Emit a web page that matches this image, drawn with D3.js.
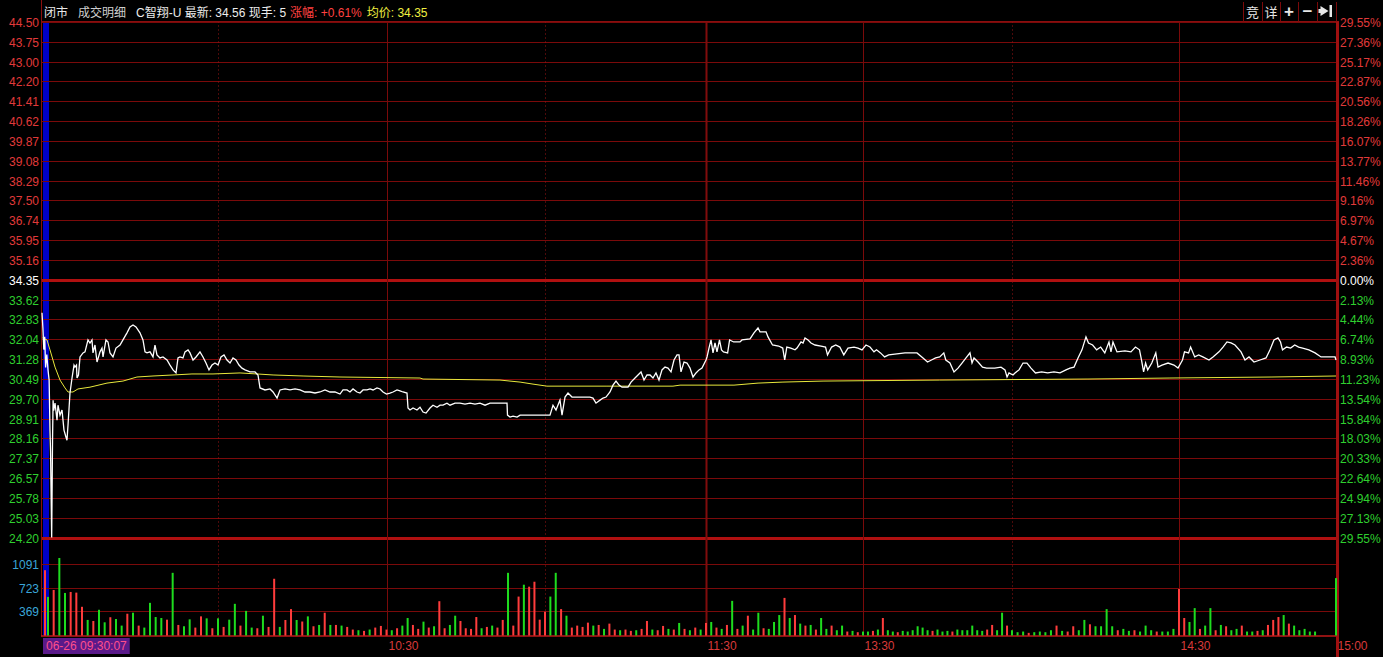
<!DOCTYPE html>
<html><head><meta charset="utf-8">
<script src="https://cdn.jsdelivr.net/npm/d3@7"></script>
<style>
body{margin:0;background:#000;overflow:hidden}
svg{display:block}
text{font-family:Arial,"Liberation Sans","Noto Sans CJK SC",sans-serif;font-size:12px}
</style>
</head><body>
<svg id="c" width="1383" height="657"></svg>
<script>
// ---------------- data ----------------
const prevClose = 34.35;
const priceTickLabels = ["44.50","43.75","43.00","42.20","41.41","40.62","39.87","39.08","38.29","37.50","36.74","35.95","35.16","34.35","33.62","32.83","32.04","31.28","30.49","29.70","28.91","28.16","27.37","26.57","25.78","25.03","24.20"];
const pctTickLabels = ["29.55%","27.36%","25.17%","22.87%","20.56%","18.26%","16.07%","13.77%","11.46%","9.16%","6.97%","4.67%","2.36%","0.00%","2.13%","4.44%","6.74%","8.93%","11.23%","13.54%","15.84%","18.03%","20.33%","22.64%","24.94%","27.13%","29.55%"];
const volTickValues = [369, 723, 1091];
const timeTickMinutes = [30, 60, 90, 120, 150, 180, 210, 240];
const timeTickLabels = ["", "10:30", "", "11:30", "13:30", "", "14:30", "15:00"];
const timeTickStyles = ["dot", "solid", "dot", "double", "solid", "dot", "solid", "none"];
const headerItems = [
  {t:"闭市", c:"#e8e8e8"}, {t:"成交明细", c:"#cfcfcf"},
  {t:"C智翔-U 最新: 34.56 现手: 5", c:"#ececec"},
  {t:"涨幅: +0.61%", c:"#ff4040"}, {t:"均价: 34.35", c:"#f0f040"}
];
const startStamp = "06-26 09:30:07";

// [minutes after 09:30, price]
const pricePoints = [
[-1.0,33.05],[-0.85,32.45],[-0.7,31.6],[-0.55,32.1],[-0.4,30.9],[-0.2,31.4],[0,30.8],[0.2,30.4],[0.35,28.4],[0.45,27.6],[0.65,24.2],[0.8,28.0],[0.9,29.6],[1.0,29.2],
[1.24,29.49],[1.59,28.82],[1.76,29.41],[2.12,29.02],[2.47,29.22],[2.82,28.43],[3.18,28.15],[3.35,28.03],[3.53,28.62],[3.88,29.89],[4.24,30.48],[4.59,30.99],[4.76,30.91],[5.03,30.99],[5.12,30.48],[5.38,30.6],
[5.65,31.31],[6.18,31.47],[6.53,31.51],[7.06,31.98],[7.41,31.86],[7.76,31.98],[7.94,31.47],[8.29,31.78],[8.65,31.11],[9.18,31.51],[9.53,31.66],[9.71,31.31],[10.23,31.98],[10.59,31.9],[10.94,31.47],[11.47,31.31],
[12.0,31.66],[12.71,31.78],[13.23,31.98],[13.94,32.26],[14.47,32.49],[15.0,32.57],[15.53,32.49],[16.23,32.26],[16.76,31.98],[17.12,31.51],[17.47,31.47],[18.0,31.51],[18.53,31.31],[18.88,31.78],[19.23,31.39],
[19.76,31.27],[20.29,31.31],[21.0,31.19],[21.53,30.99],[22.06,30.8],[22.59,30.68],[22.94,31.27],[23.29,31.31],[23.82,31.27],[24.18,31.51],[24.71,31.59],[25.06,31.47],[25.59,31.19],[26.12,31.31],[26.82,31.51],
[27.35,31.31],[27.88,31.07],[28.41,30.8],[28.94,30.99],[29.47,31.07],[30.0,30.99],[30.53,31.31],[31.07,31.39],[31.6,31.19],[32.14,31.07],[32.67,31.27],[33.2,31.19],[33.74,30.99],[34.27,30.87],[34.81,30.8],
[35.7,30.72],[36.59,30.72],[37.12,30.6],[37.48,30.09],[38.37,30.01],[39.26,30.05],[39.8,29.93],[40.51,29.69],[41.04,30.01],[41.93,30.05],[42.82,30.01],[43.71,30.05],[44.6,30.01],[45.49,29.93],[46.38,29.93],
[47.27,29.89],[48.16,29.93],[49.05,30.01],[49.94,29.93],[50.83,29.93],[51.72,29.85],[52.26,30.01],[52.97,30.01],[53.5,29.93],[54.04,30.05],[54.75,29.93],[55.28,29.89],[55.82,30.01],[56.53,30.01],[57.07,30.05],
[57.6,30.01],[58.31,30.09],[58.85,30.05],[59.38,29.93],[60.0,29.85],[60.66,29.89],[61.23,29.93],[61.99,30.01],[62.56,29.97],[63.12,29.93],[63.88,29.89],[64.07,29.3],[64.45,29.22],[65.02,29.3],[65.77,29.22],
[66.34,29.33],[66.91,29.14],[67.48,29.1],[68.23,29.3],[68.8,29.41],[69.56,29.33],[70.13,29.41],[70.69,29.41],[71.45,29.49],[72.02,29.41],[72.97,29.49],[73.91,29.49],[74.86,29.45],[75.81,29.49],[76.75,29.45],
[77.7,29.49],[78.65,29.41],[79.59,29.49],[80.54,29.49],[81.48,29.49],[82.81,29.49],[82.9,29.02],[83.38,28.94],[83.95,28.98],[84.71,28.94],[85.28,29.02],[87.17,29.02],[90.0,29.02],[90.93,29.02],[91.49,29.41],
[92.05,29.22],[92.79,29.61],[93.17,29.02],[93.73,29.73],[94.29,29.89],[95.03,29.73],[96.52,29.73],[98.38,29.73],[98.94,29.69],[99.5,29.49],[100.25,29.61],[100.81,29.69],[101.37,29.73],[102.11,29.93],
[102.67,30.2],[103.23,30.36],[103.79,30.2],[104.35,30.12],[105.47,30.12],[106.03,30.32],[106.77,30.48],[107.33,30.6],[107.89,30.72],[108.45,30.4],[109.01,30.6],[109.57,30.6],[110.12,30.48],[110.68,30.68],
[111.24,30.4],[111.8,30.8],[112.36,30.91],[112.92,30.87],[113.48,30.72],[114.04,31.19],[114.6,31.39],[114.97,31.39],[115.34,30.72],[115.9,31.11],[116.46,31.07],[117.02,30.87],[117.58,30.52],[118.14,30.68],
[118.7,30.8],[119.25,30.87],[120.0,31.19],[120.2,31.31],[120.57,31.66],[120.96,31.98],[121.34,31.47],[121.72,31.86],[122.1,31.51],[122.58,31.98],[122.96,31.59],[123.34,31.51],[124.13,31.47],[124.51,31.98],
[125.29,31.9],[126.5,31.9],[126.88,31.98],[128.41,32.02],[129.17,32.26],[129.94,32.45],[130.32,32.3],[131.47,32.3],[131.85,32.1],[132.71,31.78],[133.87,31.74],[134.66,31.66],[135.04,31.19],[135.44,31.7],
[136.2,31.66],[137.01,31.59],[137.39,31.66],[138.16,31.9],[138.54,31.86],[138.92,32.06],[139.5,31.98],[140.06,31.86],[140.83,31.78],[141.98,31.74],[142.84,31.7],[143.22,31.39],[144.0,31.7],[144.79,31.78],
[145.57,31.7],[146.33,31.39],[147.13,31.66],[148.28,31.7],[149.04,31.66],[149.81,31.59],[150.6,31.78],[151.41,31.7],[152.21,31.51],[152.72,31.59],[153.52,31.47],[154.35,31.31],[155.17,31.39],[156.83,31.43],
[158.46,31.47],[160.07,31.47],[160.87,31.47],[162.08,31.27],[162.99,31.11],[163.79,31.19],[164.62,31.27],[165.44,31.31],[166.27,31.47],[166.67,31.19],[167.5,31.07],[168.32,30.72],[169.13,30.87],[169.93,31.07],
[170.74,31.27],[171.54,31.47],[171.95,31.07],[172.35,31.27],[173.16,31.11],[174.06,30.91],[174.89,30.87],[176.52,30.87],[177.79,30.91],[178.59,30.8],[179.0,30.52],[179.4,30.68],[180.18,30.6],[180.54,30.68],
[181.26,30.8],[181.98,31.07],[182.69,31.07],[183.41,30.87],[184.22,30.68],[185.32,30.72],[186.41,30.68],[187.54,30.72],[188.62,30.68],[189.7,30.8],[190.42,30.87],[191.14,30.91],[191.86,31.27],[192.57,31.59],
[193.29,32.1],[193.74,31.86],[194.48,31.78],[195.21,31.59],[195.93,31.7],[196.67,31.47],[197.42,31.9],[197.78,31.51],[198.14,31.9],[198.86,31.51],[200.29,31.55],[201.37,31.51],[202.18,31.7],[202.9,31.59],
[203.26,31.19],[203.64,30.72],[204.0,31.07],[204.38,30.8],[205.11,31.07],[205.83,31.47],[206.23,30.91],[206.95,30.99],[208.03,31.07],[209.1,30.99],[209.82,30.87],[210.67,31.19],[211.05,31.51],[211.83,31.47],
[212.22,31.7],[213.0,31.31],[213.76,31.39],[214.55,31.31],[215.73,31.19],[216.5,31.31],[217.64,31.51],[218.41,31.7],[219.17,31.9],[219.94,31.86],[220.7,31.78],[221.85,31.51],[222.61,31.19],[223.38,31.31],
[224.33,31.11],[225.48,31.19],[226.63,31.27],[227.39,31.59],[228.15,31.98],[228.92,32.06],[229.4,31.9],[229.78,31.59],[230.56,31.7],[231.33,31.66],[232.11,31.78],[232.86,31.7],[233.62,31.66],[234.81,31.59],
[236.0,31.47],[237.14,31.31],[239.82,31.31],[240.0,31.19]
];

const avgPoints = [
[-0.9,32.06],[-0.17,31.98],[0.35,31.59],[1.24,30.91],[2.12,30.4],[3.0,30.09],[3.53,29.93],[4.41,29.93],[5.29,30.05],[7.41,30.12],[10.41,30.28],[13.23,30.36],[15.7,30.52],[18.53,30.56],[22.06,30.6],
[25.41,30.64],[29.12,30.64],[33.92,30.68],[36.94,30.64],[39.8,30.6],[45.14,30.56],[51.72,30.52],[66.34,30.48],[66.91,30.44],[81.48,30.4],[85.28,30.32],[87.73,30.24],[90.37,30.16],[101.55,30.16],
[113.85,30.16],[115.16,30.2],[125.35,30.2],[129.94,30.28],[134.71,30.32],[142.36,30.36],[165.46,30.4],[193.65,30.44],[208.38,30.48],[227.77,30.52],[240.0,30.56]
];

const auctionVolume = 990;
const volumes = [
585,690,1175,645,660,650,435,236,220,390,
200,277,250,150,330,345,150,120,495,280,
265,240,950,160,140,245,120,290,260,110,
260,130,240,480,150,373,120,110,300,130,
860,130,235,400,235,212,290,140,160,345,
160,160,150,130,90,80,70,90,120,145,
90,80,110,150,265,160,100,210,120,140,
520,110,160,300,220,110,100,280,110,130,
150,120,236,950,150,590,770,740,815,240,
360,590,950,400,300,120,150,130,195,150,
160,100,180,90,80,90,70,80,100,220,
90,80,145,100,90,190,100,80,120,90,
190,205,120,100,160,525,100,150,300,90,
345,110,100,205,310,570,265,310,180,150,
160,90,265,100,150,80,150,60,70,50,
60,60,70,90,265,80,60,50,70,60,
80,140,120,80,70,90,60,70,60,90,
80,80,150,80,70,90,160,80,345,150,
80,50,60,40,50,60,50,80,150,70,
60,140,80,236,170,140,140,400,140,80,
100,70,80,60,150,80,60,60,60,100,
705,265,205,415,100,150,415,80,160,140,
80,100,150,60,60,70,80,160,236,280,
310,180,150,80,100,60,60,0,0,0,
870];
const volSide = ("grggrrrgrg"+"grggrgrggg"+"grgrggrrgr"+"grggrggrgr"+"rgrrgrgrgr"+
  "grgrrgrgrr"+"rgrggrrgrg"+"rrggrrrrgr"+"grrgrrgrrr"+"rggrgrrrrg"+
  "rgrrgrrgrr"+"grrgrgrgrg"+"rgrgrgrgrg"+"grgggrgrgr"+"grggrggrgr"+
  "ggrgrggrgg"+"ggggrgggrg"+"gggggrrggr"+"gggrggggrg"+"rrggrggggr"+
  "ggrgggrggg"+"rrggrggrgr"+"ggrggrgrrr"+"grgggggggg"+"g").split("");

// ---------------- drawing ----------------
const svg = d3.select("#c");
const W = 1383;
const L = 41, R = 1336, TOP = 21.5;
const gridC = "#7a0a0a", gridStrong = "#b01010";

const x = d3.scaleLinear()
  .domain([-1, 0, 30, 60, 90, 120, 150, 180, 210, 240])
  .range([42, 48, 218, 386.5, 545, 706, 863, 1012, 1179, 1336]);
const y = d3.scaleLinear().domain([24.20, 44.50]).range([537.5, 22]);
const yv = d3.scaleLinear().domain([0, 1440]).range([635.5, 540.5]);

svg.append("rect").attr("width", W).attr("height", 657).attr("fill", "#000");

// auction band
svg.append("rect").attr("x", x(-1)+1).attr("y", TOP).attr("width", x(0)-x(-1)).attr("height", yv(0)-TOP)
  .attr("fill", "#0000c8");

// price gridlines (evenly spaced through the price scale)
const step = (44.50 - 24.20) / 26;
const tickVals = d3.range(27).map(i => 44.50 - i*step);
const gG = svg.append("g");
tickVals.forEach((v, i) => {
  const yy = Math.round(y(v)) + 0.5;
  const strong = (i === 13 || i === 26);
  gG.append("line").attr("x1", L).attr("x2", R).attr("y1", yy).attr("y2", yy)
    .attr("stroke", strong ? gridStrong : gridC).attr("stroke-width", strong ? 3 : 1);
  const col = i < 13 ? "#e03a3a" : (i === 13 ? "#ffffff" : "#2fcf2f");
  gG.append("text").attr("x", 39).attr("y", yy + 4.5).attr("text-anchor", "end")
    .attr("fill", col).text(priceTickLabels[i]);
  gG.append("text").attr("x", 1340).attr("y", yy + 4.5).attr("text-anchor", "start")
    .attr("fill", col).text(pctTickLabels[i]);
});

// volume gridlines
volTickValues.forEach(v => {
  const yy = Math.round(yv(v)) + 0.5;
  gG.append("line").attr("x1", L).attr("x2", R).attr("y1", yy).attr("y2", yy)
    .attr("stroke", gridC).attr("stroke-width", 1);
  gG.append("text").attr("x", 39).attr("y", yy + 4.5).attr("text-anchor", "end")
    .attr("fill", "#3aa6d8").text(v);
});

// vertical time gridlines
timeTickMinutes.forEach((m, i) => {
  const xx = Math.round(x(m)) + 0.5;
  const st = timeTickStyles[i];
  if (st !== "none") {
    const ln = gG.append("line").attr("x1", xx).attr("x2", xx).attr("y1", TOP).attr("y2", yv(0))
      .attr("stroke", st === "dot" ? "#9a1515" : gridC);
    if (st === "dot") ln.attr("stroke-dasharray", "1,3");
    if (st === "double") ln.attr("stroke-width", 2).attr("stroke", "#800c0c");
  }
  if (timeTickLabels[i]) {
    svg.append("text").attr("x", xx + 1).attr("y", 650).attr("fill", "#d83a3a").text(timeTickLabels[i]);
  }
});

// frame
svg.append("line").attr("x1", L+0.5).attr("x2", L+0.5).attr("y1", 0).attr("y2", yv(0)+1).attr("stroke", "#8a0e0e");
svg.append("line").attr("x1", L).attr("x2", R+3).attr("y1", TOP).attr("y2", TOP).attr("stroke", "#8a0e0e");
svg.append("line").attr("x1", R+1.5).attr("x2", R+1.5).attr("y1", TOP).attr("y2", 657).attr("stroke", "#a01010").attr("stroke-width", 3);
svg.append("line").attr("x1", L).attr("x2", R).attr("y1", yv(0)+0.5).attr("y2", yv(0)+0.5).attr("stroke", "#c01818").attr("stroke-width", 1.5);

// volume bars
const colUp = "#ff3c3c", colDn = "#1edc1e";
svg.append("g").selectAll("rect").data(volumes).join("rect")
  .attr("x", (d, i) => x(i) - 1)
  .attr("width", 2)
  .attr("y", d => yv(d))
  .attr("height", d => yv(0) - yv(d))
  .attr("fill", (d, i) => volSide[i] === "r" ? colUp : colDn);
svg.append("rect").attr("x", x(-0.5) - 1).attr("width", 2)
  .attr("y", yv(auctionVolume)).attr("height", yv(0) - yv(auctionVolume)).attr("fill", colUp);

// average line
svg.append("path").datum(avgPoints)
  .attr("d", d3.line().x(d => x(d[0])).y(d => y(d[1])))
  .attr("fill", "none").attr("stroke", "#e8e83c").attr("stroke-width", 1);

// price line
svg.append("path").datum(pricePoints)
  .attr("d", d3.line().x(d => x(d[0])).y(d => y(d[1])))
  .attr("fill", "none").attr("stroke", "#ffffff").attr("stroke-width", 1.3);

// header
let hx = 44;
const hg = svg.append("g");
const gaps = [10, 10, 4, 5, 0];
headerItems.forEach((h, i) => {
  const t = hg.append("text").attr("x", hx).attr("y", 17).attr("fill", h.c).text(h.t);
  hx += t.node().getComputedTextLength() + gaps[i];
});

// top-right buttons
const btnX = [1243, 1262, 1280, 1298, 1317, 1336];
const btnT = ["竞", "详", "+", "−", ""];
btnX.forEach(bx => svg.append("line").attr("x1", bx+0.5).attr("x2", bx+0.5).attr("y1", 2).attr("y2", TOP)
  .attr("stroke", "#7a0a0a"));
btnT.forEach((t, i) => {
  const cx = (btnX[i] + btnX[i+1]) / 2;
  if (t) svg.append("text").attr("x", cx).attr("y", 17).attr("text-anchor", "middle")
    .attr("fill", "#e6e6e6").attr("font-weight", /[+−]/.test(t) ? "bold" : "normal")
    .style("font-size", /[+−]/.test(t) ? "17px" : "13px").text(t);
});
{ // skip-to-end icon
  const cx = (btnX[4] + btnX[5]) / 2;
  svg.append("path").attr("d", `M${cx-6},${6} L${cx+2},${11} L${cx-6},${16} Z M${cx-8},${9} h4 v4 h-4 Z`).attr("fill", "#e6e6e6");
  svg.append("rect").attr("x", cx+3).attr("y", 5).attr("width", 2.5).attr("height", 12).attr("fill", "#e6e6e6");
}

// start time stamp
const stampG = svg.append("g");
const st = stampG.append("text").attr("x", 46).attr("y", 650).attr("fill", "#ff4f8a").text(startStamp);
const bw = st.node().getComputedTextLength();
stampG.insert("rect", "text").attr("x", 43).attr("y", 638).attr("width", bw + 6).attr("height", 16).attr("fill", "#5a1a8a");
</script>
</body></html>
